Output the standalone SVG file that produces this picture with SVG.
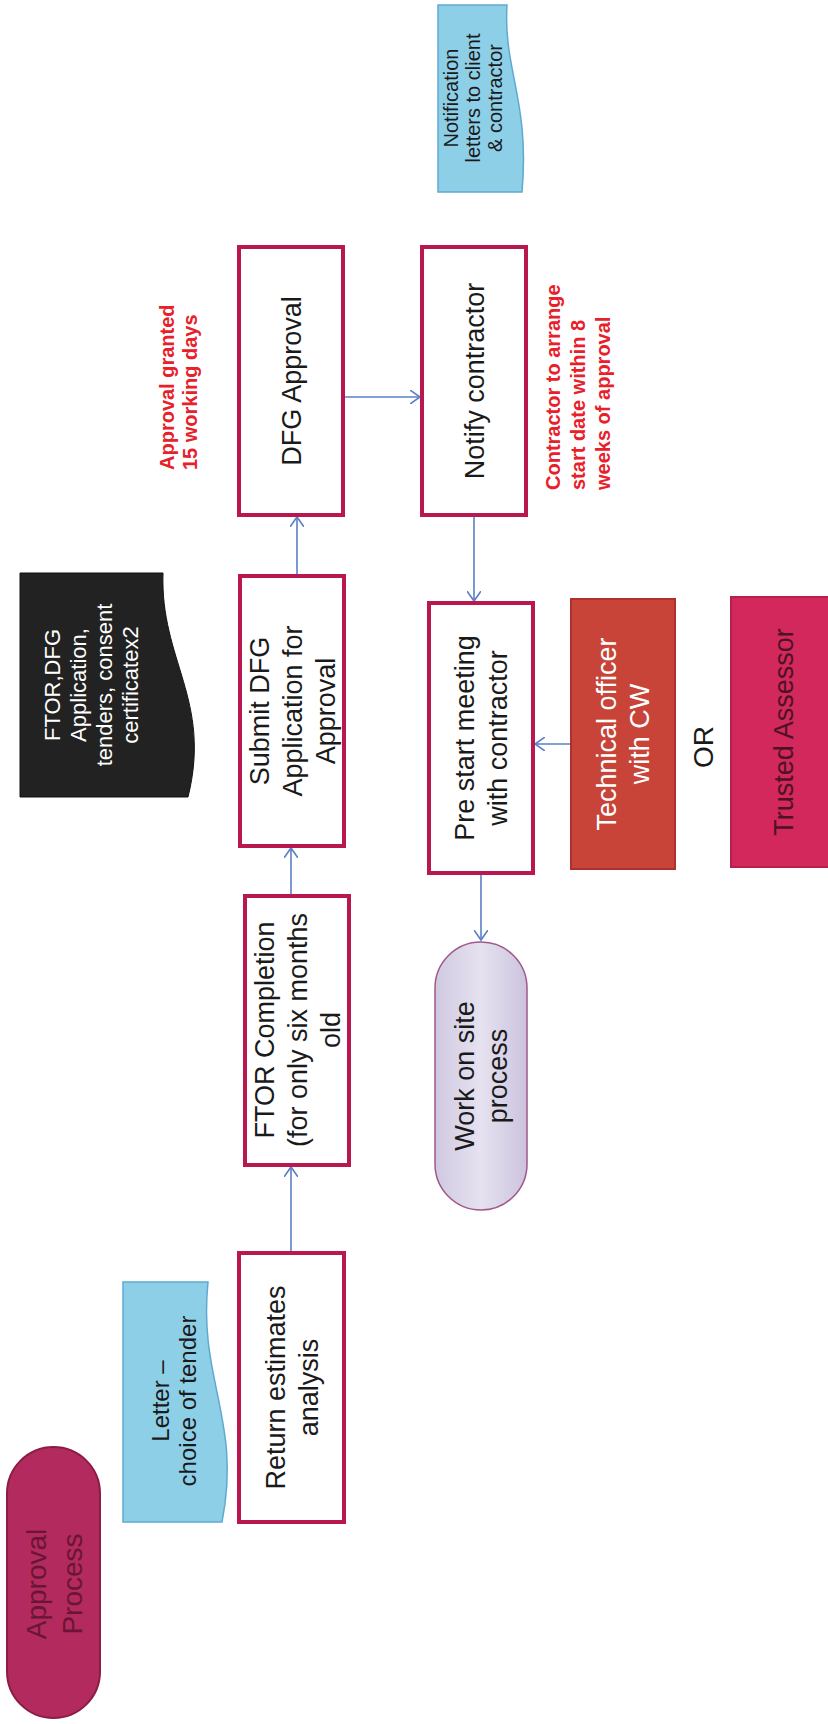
<svg xmlns="http://www.w3.org/2000/svg" width="828" height="1724" viewBox="0 0 828 1724">
<defs>
<style>
.box{fill:#ffffff;stroke:#b8174f;stroke-width:4}
.t{font-family:"Liberation Sans",Arial,sans-serif;font-size:27px;fill:#1a1a1a;text-anchor:middle}
.w{fill:#ffffff}
.red{font-family:"Liberation Sans",Arial,sans-serif;font-size:20px;font-weight:bold;fill:#e8202a;text-anchor:start}
.doc{fill:#8ecfe8;stroke:#5fa9d0;stroke-width:1.5}
.conn{stroke:#5b7fc8;stroke-width:1.6;fill:none;marker-end:url(#ah)}
</style>
<marker id="ah" markerUnits="userSpaceOnUse" markerWidth="12" markerHeight="14" refX="10" refY="7" orient="auto">
<path d="M0,0 L10,7 L0,14" fill="none" stroke="#5b7fc8" stroke-width="1.6"/>
</marker>
<linearGradient id="lav" x1="0" y1="0" x2="1" y2="0">
<stop offset="0" stop-color="#cfc9e0"/>
<stop offset="0.5" stop-color="#e6e2f0"/>
<stop offset="1" stop-color="#cbc3de"/>
</linearGradient>
</defs>
<rect width="828" height="1724" fill="#ffffff"/>

<g id="connectors">
<line class="conn" x1="291" y1="1253" x2="291" y2="1167"/>
<line class="conn" x1="291" y1="896" x2="291" y2="848"/>
<line class="conn" x1="297" y1="576" x2="297" y2="517"/>
<line class="conn" x1="343" y1="397" x2="420" y2="397"/>
<line class="conn" x1="474" y1="515" x2="474" y2="601"/>
<line class="conn" x1="571" y1="744" x2="535" y2="744"/>
<line class="conn" x1="481" y1="873" x2="481" y2="940"/>
</g>

<g id="approval-process">
<rect x="7" y="1447" width="93" height="271" rx="46.5" fill="#b22a5e" stroke="#8c1c45" stroke-width="2"/>
<text class="t" font-size="28" fill="#6b1535" style="font-size:28px;fill:#6b1535" transform="translate(54,1584) rotate(-90)"><tspan x="0" y="-8">Approval</tspan><tspan x="0" y="28">Process</tspan></text>
</g>

<g id="letter-choice">
<path class="doc" d="M123,1282 H208 C198,1380 242,1420 222,1522 H123 Z"/>
<text class="t" style="font-size:24px" transform="translate(174,1401) rotate(-90)"><tspan x="0" y="-5">Letter –</tspan><tspan x="0" y="22">choice of tender</tspan></text>
</g>

<g id="return-estimates">
<rect class="box" x="239" y="1253" width="105" height="269"/>
<text class="t" transform="translate(291.5,1387.5) rotate(-90)"><tspan x="0" y="-7">Return estimates</tspan><tspan x="0" y="26">analysis</tspan></text>
</g>

<g id="ftor-completion">
<rect class="box" x="245" y="896" width="104" height="269"/>
<text class="t" transform="translate(297,1030) rotate(-90)"><tspan x="0" y="-23.5">FTOR Completion</tspan><tspan x="0" y="9.5">(for only six months</tspan><tspan x="0" y="42.5">old</tspan></text>
</g>

<g id="submit-dfg">
<rect class="box" x="240" y="576" width="104" height="270"/>
<text class="t" transform="translate(292,711) rotate(-90)"><tspan x="0" y="-23.5">Submit DFG</tspan><tspan x="0" y="9.5">Application for</tspan><tspan x="0" y="42.5">Approval</tspan></text>
</g>

<g id="ftor-documents">
<path d="M20,573 H163 C160,660 212,700 188,797 H20 Z" fill="#222222" stroke="#111111" stroke-width="1"/>
<text class="t w" style="font-size:22px;fill:#ffffff" transform="translate(91,685) rotate(-90)"><tspan x="0" y="-31.3">FTOR,DFG</tspan><tspan x="0" y="-5.3">Application,</tspan><tspan x="0" y="20.7">tenders, consent</tspan><tspan x="0" y="46.7">certificatex2</tspan></text>
</g>

<g id="dfg-approval">
<rect class="box" x="239" y="247" width="104" height="268"/>
<text class="t" transform="translate(291,381) rotate(-90)"><tspan x="0" y="9.5">DFG Approval</tspan></text>
</g>

<g id="approval-note">
<text class="red" transform="translate(178,470) rotate(-90)"><tspan x="0" y="-4">Approval granted</tspan><tspan x="0" y="19">15 working days</tspan></text>
</g>

<g id="notify-contractor">
<rect class="box" x="422" y="247" width="104" height="268"/>
<text class="t" transform="translate(474,381) rotate(-90)"><tspan x="0" y="9.5">Notify contractor</tspan></text>
</g>

<g id="contractor-note">
<text class="red" transform="translate(578,490) rotate(-90)"><tspan x="0" y="-18">Contractor to arrange</tspan><tspan x="0" y="7">start date within 8</tspan><tspan x="0" y="32">weeks of approval</tspan></text>
</g>

<g id="notification-letters">
<path class="doc" d="M438,5 H507 C503,70 530,100 522,192 H438 Z"/>
<text class="t" style="font-size:20px" transform="translate(473,98) rotate(-90)"><tspan x="0" y="-15">Notification</tspan><tspan x="0" y="7">letters to client</tspan><tspan x="0" y="29">&amp; contractor</tspan></text>
</g>

<g id="pre-start">
<rect class="box" x="429" y="603" width="104" height="270"/>
<text class="t" transform="translate(481,738) rotate(-90)"><tspan x="0" y="-7">Pre start meeting</tspan><tspan x="0" y="26">with contractor</tspan></text>
</g>

<g id="technical-officer">
<rect x="571" y="599" width="104" height="270" fill="#c84438" stroke="#b03030" stroke-width="2"/>
<text class="t" style="fill:#ffffff" transform="translate(623,734) rotate(-90)"><tspan x="0" y="-7">Technical officer</tspan><tspan x="0" y="26">with CW</tspan></text>
</g>

<g id="or-label">
<text class="t" style="font-size:28px" transform="translate(703,747) rotate(-90)"><tspan x="0" y="10">OR</tspan></text>
</g>

<g id="trusted-assessor">
<rect x="731" y="597" width="104" height="270" fill="#d2285c" stroke="#b8204c" stroke-width="2"/>
<text class="t" style="fill:#4d1226" transform="translate(783,732) rotate(-90)"><tspan x="0" y="9.5">Trusted Assessor</tspan></text>
</g>

<g id="work-on-site">
<rect x="435" y="942" width="92" height="268" rx="46" fill="url(#lav)" stroke="#a0578a" stroke-width="1.5"/>
<text class="t" transform="translate(481,1076) rotate(-90)"><tspan x="0" y="-7">Work on site</tspan><tspan x="0" y="26">process</tspan></text>
</g>
</svg>
